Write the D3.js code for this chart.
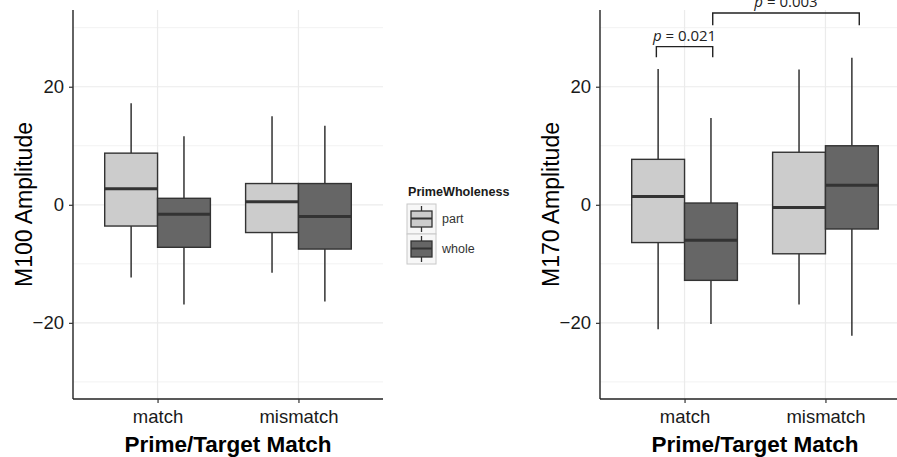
<!DOCTYPE html>
<html>
<head>
<meta charset="utf-8">
<script src="https://cdn.jsdelivr.net/npm/d3@7/dist/d3.min.js"></script>
<style>
  html, body { margin: 0; padding: 0; background: #ffffff; }
  svg { display: block; }
</style>
</head>
<body>
<div id="chart"></div>
<script>
// ---------------- data ----------------
const categories = ["match", "mismatch"];
const groups = ["part", "whole"];
const groupFills = ["#cccccc", "#666666"];
const yTicks = [-20, 0, 20];
const yMinorTicks = [-30, -10, 10, 30];
const yDomain = [-32.9, 33];

// stats per category: [lower whisker, Q1, median, Q3, upper whisker]
const m100Part  = [[-12.3, -3.6, 2.7, 8.75, 17.2], [-11.5, -4.7, 0.5, 3.6, 15.0]];
const m100Whole = [[-16.9, -7.2, -1.6, 1.1, 11.6], [-16.4, -7.5, -2.0, 3.6, 13.4]];
const m170Part  = [[-21.1, -6.4, 1.4, 7.7, 23.0], [-16.9, -8.3, -0.45, 8.9, 22.9]];
const m170Whole = [[-20.2, -12.8, -6.0, 0.3, 14.7], [-22.2, -4.1, 3.3, 10.0, 24.9]];

// significance brackets
const bracketLabels = ["0.021", "0.003"];
const bracketLeft  = [["match", -0.2], ["match", 0.2]];
const bracketRight = [["match", 0.2], ["mismatch", 0.24]];
const bracketBarY  = [26.8, 32.5];
const bracketLegY  = [25.0, 30.4];

// ---------------- layout ----------------
const W = 897, H = 457;
const svg = d3.select("#chart").append("svg").attr("width", W).attr("height", H);

const plotTop = 10, plotBottom = 399;
const y = d3.scaleLinear().domain(yDomain).range([plotBottom, plotTop]);

function drawPanel(x0, x1, title, partStats, wholeStats, brackets) {
  const g = svg.append("g");
  const x = d3.scalePoint().domain(categories).range([x0, x1]).padding(0.6);
  const step = x.step();
  const boxW = step * 0.375;
  const gridColor = "#ebebeb";

  // grid
  g.selectAll(".gmin").data(yMinorTicks).enter().append("line")
    .attr("x1", x0).attr("x2", x1).attr("y1", d => y(d)).attr("y2", d => y(d))
    .attr("stroke", "#f2f2f2").attr("stroke-width", 1);
  g.selectAll(".gmaj").data(yTicks).enter().append("line")
    .attr("x1", x0).attr("x2", x1).attr("y1", d => y(d)).attr("y2", d => y(d))
    .attr("stroke", gridColor).attr("stroke-width", 1.2);
  g.selectAll(".gx").data(categories).enter().append("line")
    .attr("x1", d => x(d)).attr("x2", d => x(d)).attr("y1", plotTop).attr("y2", plotBottom)
    .attr("stroke", gridColor).attr("stroke-width", 1.2);

  // boxes
  const stroke = "#333333";
  [partStats, wholeStats].forEach((stats, gi) => {
    const off = (gi === 0 ? -1 : 1) * boxW / 2;
    categories.forEach((c, ci) => {
      const s = stats[ci];
      const cx = x(c) + off;
      g.append("line").attr("x1", cx).attr("x2", cx).attr("y1", y(s[4])).attr("y2", y(s[3]))
        .attr("stroke", stroke).attr("stroke-width", 1.5);
      g.append("line").attr("x1", cx).attr("x2", cx).attr("y1", y(s[1])).attr("y2", y(s[0]))
        .attr("stroke", stroke).attr("stroke-width", 1.5);
      g.append("rect").attr("x", cx - boxW / 2).attr("width", boxW)
        .attr("y", y(s[3])).attr("height", y(s[1]) - y(s[3]))
        .attr("fill", groupFills[gi]).attr("stroke", stroke).attr("stroke-width", 1.4);
      g.append("line").attr("x1", cx - boxW / 2).attr("x2", cx + boxW / 2)
        .attr("y1", y(s[2])).attr("y2", y(s[2]))
        .attr("stroke", stroke).attr("stroke-width", 3);
    });
  });

  // axes
  const yAxis = d3.axisLeft(y).tickValues(yTicks).tickSize(4).tickPadding(5)
    .tickFormat(d => d < 0 ? "\u2212" + Math.abs(d) : d);
  const ya = g.append("g").attr("transform", `translate(${x0},0)`).call(yAxis);
  ya.select(".domain").attr("d", `M0,${plotTop}V${plotBottom}`).attr("stroke", "#222").attr("stroke-width", 1.4);
  ya.selectAll(".tick line").attr("stroke", "#333").attr("stroke-width", 1.2);
  ya.selectAll(".tick text").attr("font-family", "Liberation Sans, Arial, sans-serif")
    .attr("font-size", 18.5).attr("fill", "#1a1a1a");

  const xAxis = d3.axisBottom(x).tickSize(4).tickPadding(7);
  const xa = g.append("g").attr("transform", `translate(0,${plotBottom})`).call(xAxis);
  xa.select(".domain").attr("d", `M${x0},0H${x1}`).attr("stroke", "#222").attr("stroke-width", 1.4);
  xa.selectAll(".tick line").attr("stroke", "#333").attr("stroke-width", 1.2);
  xa.selectAll(".tick text").attr("font-family", "Liberation Sans, Arial, sans-serif")
    .attr("font-size", 18.5).attr("fill", "#1a1a1a");

  // titles
  g.append("text").attr("x", (x0 + x1) / 2).attr("y", 452)
    .attr("text-anchor", "middle").attr("font-family", "Liberation Sans, Arial, sans-serif")
    .attr("font-weight", "bold").attr("font-size", 22.5).attr("fill", "#000")
    .text("Prime/Target Match");
  g.append("text").attr("transform", `translate(${x0 - 41},${(plotTop + plotBottom) / 2}) rotate(-90)`)
    .attr("text-anchor", "middle").attr("font-family", "Liberation Sans, Arial, sans-serif")
    .attr("font-size", 23).attr("fill", "#000")
    .text(title);

  // brackets
  if (brackets) {
    bracketLabels.forEach((lab, i) => {
      const xl = x(bracketLeft[i][0]) + bracketLeft[i][1] * step;
      const xr = x(bracketRight[i][0]) + bracketRight[i][1] * step;
      const yb = y(bracketBarY[i]), yl = y(bracketLegY[i]);
      g.append("path").attr("d", `M${xl},${yl}V${yb}H${xr}V${yl}`)
        .attr("fill", "none").attr("stroke", "#222").attr("stroke-width", 1.4);
      const t = g.append("text").attr("x", (xl + xr) / 2).attr("y", yb - 6)
        .attr("text-anchor", "middle").attr("font-family", "Open Sans, Liberation Sans, sans-serif")
        .attr("font-size", 15).attr("fill", "#222");
      t.append("tspan").attr("font-style", "italic").text("p");
      t.append("tspan").text(" = " + lab);
    });
  }
}

drawPanel(73, 383, "M100 Amplitude", m100Part, m100Whole, false);
drawPanel(600, 910, "M170 Amplitude", m170Part, m170Whole, true);

// ---------------- legend ----------------
const lg = svg.append("g");
lg.append("text").attr("x", 408).attr("y", 196)
  .attr("font-family", "Liberation Sans, Arial, sans-serif").attr("font-weight", "bold")
  .attr("font-size", 12.6).attr("fill", "#1a1a1a").text("PrimeWholeness");
groups.forEach((grp, i) => {
  const ky = 204 + i * 30;
  lg.append("rect").attr("x", 407).attr("y", ky).attr("width", 29).attr("height", 30)
    .attr("fill", "#f7f7f7").attr("stroke", "#c8c8c8").attr("stroke-width", 1);
  lg.append("line").attr("x1", 421.5).attr("x2", 421.5).attr("y1", ky + 2).attr("y2", ky + 28)
    .attr("stroke", "#333").attr("stroke-width", 1.3);
  lg.append("rect").attr("x", 411).attr("y", ky + 7).attr("width", 21).attr("height", 16)
    .attr("fill", groupFills[i]).attr("stroke", "#333").attr("stroke-width", 1.3);
  lg.append("line").attr("x1", 411).attr("x2", 432).attr("y1", ky + 14.5).attr("y2", ky + 14.5)
    .attr("stroke", "#333").attr("stroke-width", 2);
  lg.append("text").attr("x", 442).attr("y", ky + 15).attr("dy", "0.35em")
    .attr("font-family", "Liberation Sans, Arial, sans-serif").attr("font-size", 12.5)
    .attr("fill", "#333").text(grp);
});
</script>
</body>
</html>
